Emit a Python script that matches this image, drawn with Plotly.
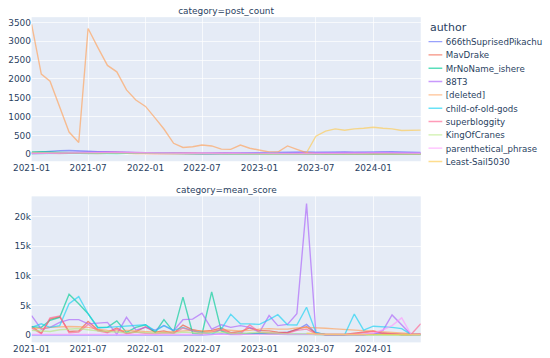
import plotly.graph_objects as go
import pandas as pd

months = pd.date_range("2021-01-01", "2024-06-01", freq="MS").strftime("%Y-%m-%d").tolist()

authors = ["666thSuprisedPikachu", "MavDrake", "MrNoName_ishere", "88T3", "[deleted]",
           "child-of-old-gods", "superbloggity", "KingOfCranes", "parenthetical_phrase", "Least-Sail5030"]
colors = ["#636efa", "#EF553B", "#00cc96", "#ab63fa", "#FFA15A",
          "#19d3f3", "#FF6692", "#B6E880", "#FF97FF", "#FECB52"]
N = None

# post_count per author (monthly, 2021-01 .. 2024-06)
pc_666th = [40, 60, 80, 95, 100, 95, 80, 70, 60, 50, 45, 40,
            40, 35, 30, 30, 25, 20, 20, 20, 25, 30, 35, 40,
            45, 50, 55, 60, 65, 60, 55, 60, 65, 60, 55, 60,
            65, 70, 65, 60, 55, 45]
pc_mavdrake = [20, 25, 30, 35, 30, 25, 20, 20, 25, 30, 25, 20,
               20, 20, 15, 15, 20, 20, 15, 15, 10, 10, 15, 15,
               10, 10, 15, 10, 10, 10, 10, 10, 10, 10, 10, 10,
               10, 10, 10, 10, 10, 10]
pc_mrnoname = [60, 70, 60, 50, 40, 30, 30, 25, 20, 20, 25, 30,
               30, 25, 20, 20, 15, 15, 10, 10, 10, 10, 10, 10,
               10, 10, 5, 5, 5, 5, 5, 5, 5, 5, 5, 5,
               5, 5, 5, 5, 5, 5]
pc_88t3 = [30, 35, 40, 45, 50, 55, 60, 65, 70, 60, 50, 45,
           40, 40, 35, 35, 30, 30, 30, 35, 40, 35, 30, 30,
           35, 40, 40, 35, 30, 30, 30, 35, 40, 45, 40, 35,
           40, 45, 40, 35, 30, 30]
pc_deleted = [3450, 2130, 1940, 1270, 590, 310, 3340, 2840, 2360, 2190, 1710, 1440,
              1270, 960, 670, 290, 180, 200, 245, 220, 135, 130, 245, 160,
              115, 60, 60, 220, 130, 40, 15, 15, 10, 10, 10, 10,
              10, 10, 10, 10, 10, 10]
pc_child = [10, 15, 20, 25, 30, 25, 20, 20, 15, 15, 20, 25,
            25, 30, 25, 20, 20, 15, 15, 10, 10, 10, 10, 15,
            20, 25, 20, 15, 15, 10, 10, 10, 10, 10, 10, 10,
            10, 10, 10, 10, 10, 10]
pc_superbloggity = [30, 25, 20, 20, 25, 30, 35, 40, 45, 50, 40, 30,
                    25, 20, 20, 25, 30, 25, 20, 20, 15, 15, 20, 20,
                    20, 15, 15, 10, 10, 10, 10, 10, 10, 10, 10, 10,
                    10, 10, 10, 10, 10, 10]
pc_kingofcranes = [50, 45, 40, 35, 30, 30, 30, 25, 25, 25, 20, 20,
                   20, 20, 20, 15, 15, 15, 15, 15, 10, 10, 10, 10,
                   10, 10, 10, 10, 10, 10, 5, 5, 5, 5, 5, 5,
                   5, 5, 5, 5, 5, 5]
pc_parenthetical = [20, 20, 25, 30, 35, 40, 45, 50, 55, 50, 45, 40,
                    35, 35, 30, 30, 25, 25, 20, 20, 20, 25, 30, 35,
                    30, 25, 20, 20, 20, 20, 20, 20, 20, 25, 30, 30,
                    35, 40, 35, 30, 30, 25]
pc_leastsail = [N] * 29 + [40, 480, 612, 674, 639, 674, 691, 717, 691, 674, 630, 639, 639]

# mean_score per author (monthly, 2021-01 .. 2024-06)
ms_666th = [0, 0, 0, 0, 0, 0, 0, 0, 0, 0, 0, 0,
            0, 0, 0, 0, 0, 0, 0, 100, 200, 100, 100, 200,
            300, 200, 300, 500, 900, 1800, 300, 100, 100, 100, 100, 100,
            200, 300, 200, 100, 100, 100]
ms_mavdrake = [1500, 300, 2700, 3100, 600, 700, 2300, 900, 500, 1200, 300, 600,
               1400, 500, 700, 300, 1700, 900, 600, 800, 1200, 400, 600, 1200,
               800, 700, 500, 400, 1000, 1400, 300, 100, 100, 100, 300, 500,
               700, 300, 200, 100, 100, 200]
ms_mrnoname = [1400, 1300, 2500, 3000, 6900, 5300, 3600, 1300, 1300, 2400, 450, 1300,
               1750, 450, 2600, 550, 6400, 300, 150, 7300, 700, 150, 300, 200,
               200, 150, 100, 100, 150, 100, 50, 50, 50, 50, 50, 50,
               50, 50, 50, 50, 50, 50]
ms_88t3 = [3300, 1000, 1300, 2150, 2600, 2600, 1900, 2000, 2150, 150, 3000, 850,
           1300, 850, 1600, 750, 2600, 2700, 3700, 1000, 1750, 1300, 1600, 1300,
           450, 3300, 1600, 1800, 3600, 22200, 400, 50, 50, 50, 50, 50,
           200, 800, 3400, 1700, 100, 100]
ms_deleted = [1200, 1100, 1300, 1400, 1450, 1400, 1300, 1000, 800, 700, 800, 700,
              600, 500, 500, 600, 700, 800, 700, 600, 900, 800, 700, 800,
              1000, 1100, 1000, 1000, 1200, 1300, 1250, 1150, 1050, 950, 850, 750,
              650, 550, 450, 350, 250, 150]
ms_child = [1300, 1900, 1300, 1600, 5300, 6500, 3600, 1200, 1300, 1400, 1500, 1600,
            1750, 700, 1600, 800, 1300, 700, 450, 150, 1000, 3500, 1900, 1900,
            1800, 2600, 3450, 1750, 1700, 4700, 450, 50, 50, 50, 3550, 850,
            1500, 1400, 1300, 1100, 100, 50]
ms_superbloggity = [1200, 200, 2900, 3200, 400, 500, 1800, 700, 400, 1000, 200, 500,
                    300, 200, 400, 300, 1200, 700, 300, 500, 900, 300, 200, 1700,
                    500, 400, 300, 300, 800, 1000, 200, 50, 50, 50, 200, 400,
                    600, 300, 200, 100, 100, 1900]
ms_kingofcranes = [800, 700, 600, 900, 1000, 1100, 900, 700, 600, 500, 400, 500,
                   400, 300, 400, 300, 500, 400, 300, 400, 500, 300, 200, 400,
                   500, 400, 300, 200, 200, 200, 100, 100, 100, 50, 50, 50,
                   50, 50, 50, 50, 50, 50]
ms_parenthetical = [100, 100, 100, 100, 100, 100, 100, 100, 100, 100, 100, 100,
                    100, 100, 100, 100, 100, 100, 100, 100, 100, 100, 100, 100,
                    100, 100, 100, 100, 100, 100, 100, 100, 100, 100, 100, 100,
                    300, 900, 1600, 2900, 100, 100]
ms_leastsail = [N] * 29 + [300, 200, 150, 150, 100, 100, 100, 100, 100, 100, 50, 50, 50]

post_count = [pc_666th, pc_mavdrake, pc_mrnoname, pc_88t3, pc_deleted,
              pc_child, pc_superbloggity, pc_kingofcranes, pc_parenthetical, pc_leastsail]
mean_score = [ms_666th, ms_mavdrake, ms_mrnoname, ms_88t3, ms_deleted,
              ms_child, ms_superbloggity, ms_kingofcranes, ms_parenthetical, ms_leastsail]

fig = go.Figure()
for a, c, pc, ms in zip(authors, colors, post_count, mean_score):
    fig.add_trace(go.Scatter(x=months, y=pc, mode="lines", name=a, legendgroup=a,
                             line=dict(color=c, width=2), opacity=0.65,
                             xaxis="x", yaxis="y", showlegend=True))
    fig.add_trace(go.Scatter(x=months, y=ms, mode="lines", name=a, legendgroup=a,
                             line=dict(color=c, width=2), opacity=0.65,
                             xaxis="x2", yaxis="y2", showlegend=False))

xcommon = dict(type="date", dtick="M6", tick0="2021-01-01", tickformat="%Y-%m")
fig.update_layout(
    template="plotly",
    width=840, height=520,
    font=dict(family="DejaVu Sans", size=13),
    margin=dict(l=46, r=228, t=25, b=22, autoexpand=False),
    xaxis=dict(anchor="y", domain=[0, 1], **xcommon),
    yaxis=dict(anchor="x", domain=[0.557, 1], dtick=500),
    xaxis2=dict(anchor="y2", domain=[0, 1], matches="x", **xcommon),
    yaxis2=dict(anchor="x2", domain=[0, 0.449], dtick=5000),
    legend=dict(title=dict(text="author", font=dict(size=16)), x=1.02, y=1,
                xanchor="left", yanchor="top", tracegroupgap=0, indentation=-15,
                font=dict(size=12.6)),
    annotations=[
        dict(text="category=post_count", x=0.5, y=1, xref="paper", yref="paper",
             xanchor="center", yanchor="bottom", showarrow=False),
        dict(text="category=mean_score", x=0.5, y=0.449, xref="paper", yref="paper",
             xanchor="center", yanchor="bottom", showarrow=False),
    ],
)

post_script = (
    "document.body.style.margin='0';document.body.style.overflow='hidden';"
    "var gd=document.getElementById('{plot_id}');"
    "gd.style.transform='scale(0.6875)';gd.style.transformOrigin='0 0';"
)
fig.write_html("out.html", post_script=post_script,
               config={"displayModeBar": False, "responsive": False})
